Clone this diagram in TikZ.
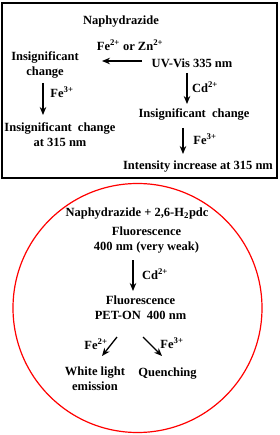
\documentclass[tikz,border=0pt]{standalone}
\usepackage{fontspec}
\setmainfont{Liberation Serif}
\usetikzlibrary{arrows.meta}
\newcommand{\sups}[1]{\textsuperscript{#1}}
\begin{document}
\begin{tikzpicture}[x=1pt,y=-1pt,
  txt/.style={font=\fontsize{12.5}{15}\bfseries\selectfont,inner sep=0pt,align=center},
  arr/.style={line width=1.3pt,-{Stealth[length=8pt,width=6.5pt]}}]
\useasboundingbox (0,0) rectangle (279,435);
\draw[line width=1.4pt] (2,3) rectangle (277,178);
\draw[red,line width=1.2pt] (137.5,308) circle[radius=124.5];
% top box
\node[txt] (naph) at (121,22) {Naphydrazide};
\node[txt] (fezn) at (130,45) {Fe\sups{2+} or Zn\sups{2+}};
\node[txt] (ins1) at (45,64.5) {Insignificant\\change};
\node[txt] (uv) at (192,63) {UV-Vis 335 nm};
\node[txt] (cd1) at (205,87) {Cd\sups{2+}};
\node[txt] (ins2) at (194,114) {Insignificant\hspace{3pt} change};
\node[txt] (fe3a) at (62,92) {Fe\sups{3+}};
\node[txt] (ins3) at (60,135) {Insignificant\hspace{3pt} change\\at 315 nm};
\node[txt] (fe3b) at (205,139) {Fe\sups{3+}};
\node[txt] (inten) at (198,167) {Intensity increase at 315 nm};
\coordinate (h1) at (142,61); \coordinate (h2) at (102,61);
\coordinate (v1a) at (187,73); \coordinate (v1b) at (187,104);
\coordinate (v2a) at (43,83); \coordinate (v2b) at (43,115);
\coordinate (v3a) at (183,128); \coordinate (v3b) at (183,154);
\draw[arr] (h1) -- (h2);
\draw[arr] (v1a) -- (v1b);
\draw[arr] (v2a) -- (v2b);
\draw[arr] (v3a) -- (v3b);
% circle
\node[txt] (np) at (137,214) {Naphydrazide + 2,6-H\textsubscript{2}pdc};
\node[txt] (fl1) at (146.5,240) {Fluorescence\\400 nm (very weak)};
\node[txt] (cd2) at (155,274) {Cd\sups{2+}};
\node[txt] (fl2) at (140.5,307.5) {Fluorescence\\PET-ON\hspace{3pt} 400 nm};
\node[txt] (fe2c) at (96,344) {Fe\sups{2+}};
\node[txt] (fe3c) at (172,343) {Fe\sups{3+}};
\node[txt] (white) at (95,379) {White light\\emission};
\node[txt] (quen) at (167.5,374) {Quenching};
\coordinate (c1a) at (133,260); \coordinate (c1b) at (133,291);
\coordinate (d1a) at (117,337); \coordinate (d1b) at (102,356);
\coordinate (d2a) at (143,337); \coordinate (d2b) at (162,356);
\draw[arr] (c1a) -- (c1b);
\draw[arr] (d1a) -- (d1b);
\draw[arr] (d2a) -- (d2b);
\end{tikzpicture}
\end{document}
